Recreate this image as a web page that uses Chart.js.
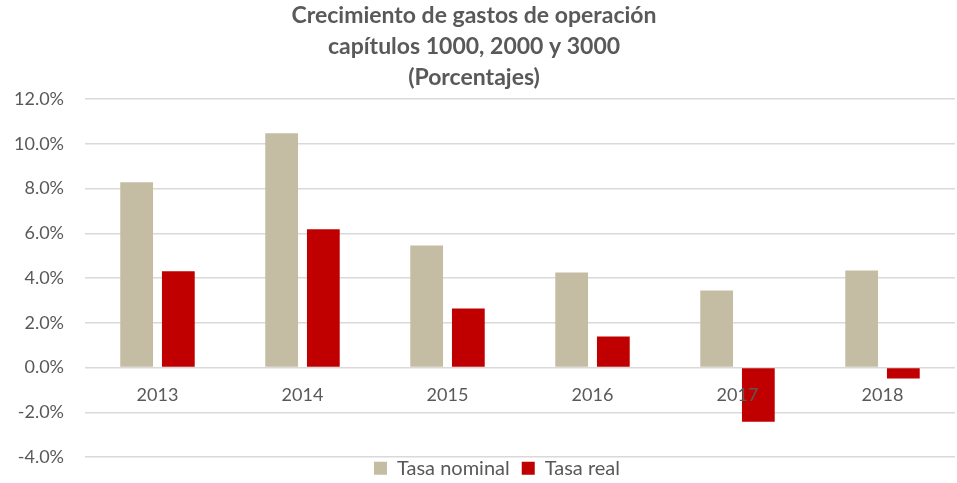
<!DOCTYPE html>
<html>
<head>
<meta charset="utf-8">
<script src="https://cdn.jsdelivr.net/npm/chart.js@4"></script>
<style>
  html, body { margin: 0; padding: 0; background: #fff; }
  #wrap { width: 957px; height: 483px; }
</style>
</head>
<body>
<div id="wrap"><canvas id="chart"></canvas></div>
<script>
// --- Datos ---
const years = ['2013', '2014', '2015', '2016', '2017', '2018'];
const tasaNominal = [8.28, 10.48, 5.46, 4.25, 3.45, 4.34];
const tasaReal = [4.30, 6.18, 2.64, 1.39, -2.42, -0.49];
const titleLines = ['Crecimiento de gastos de operación', 'capítulos 1000, 2000 y 3000', '(Porcentajes)'];

const textColor = '#595959';
const fontFamily = 'Lato, "Open Sans", sans-serif';

// ajuste fino: leyenda más baja y área del gráfico hasta y=457
const layoutFix = {
    id: 'layoutFix',
    beforeInit(chart) {
        const fit = chart.legend.fit;
        chart.legend.fit = function () {
            fit.bind(chart.legend)();
            this.height = 26;
        };
    },
    afterLayout(chart) {
        const lg = chart.legend;
        lg.top -= 5;
        lg.bottom = chart.height;
        lg.left += 23;
        lg.right += 23;

        const ys = chart.scales.y;
        ys.bottom = 457;
        ys.height = ys.bottom - ys.top;
        ys.configure();
        chart.chartArea.bottom = 457;
        chart.chartArea.height = chart.chartArea.bottom - chart.chartArea.top;
    }
};

const ctx = document.getElementById('chart').getContext('2d');
new Chart(ctx, {
    type: 'bar',
    data: {
        labels: years,
        datasets: [
            { label: 'Tasa nominal', data: tasaNominal, backgroundColor: '#c4bca3' },
            { label: 'Tasa real', data: tasaReal, backgroundColor: '#c00000' }
        ]
    },
    options: {
        responsive: true, maintainAspectRatio: false,
        animation: false,
        datasets: { bar: { categoryPercentage: 0.575, barPercentage: 0.786 } },
        layout: { padding: { left: -7, right: 2, top: 0, bottom: 0 } },
        scales: {
            x: {
                position: { y: 0 },
                grid: { display: false, drawTicks: false },
                border: { display: false },
                ticks: { z: 1, color: textColor, font: { family: fontFamily, size: 18 }, padding: 17 }
            },
            y: {
                min: -4, max: 12,
                ticks: {
                    stepSize: 2,
                    color: textColor,
                    font: { family: fontFamily, size: 18 },
                    padding: 21,
                    callback: v => v.toFixed(1) + '%'
                },
                grid: { color: '#d9d9d9', lineWidth: 1.5, drawTicks: false },
                border: { display: false }
            }
        },
        plugins: {
            title: {
                display: true,
                text: titleLines,
                color: textColor,
                font: { family: fontFamily, size: 23, weight: 'bold', lineHeight: 1.35 },
                padding: { top: 0, bottom: 6 }
            },
            legend: {
                position: 'bottom',
                labels: {
                    color: textColor,
                    font: { family: fontFamily, size: 20 },
                    boxWidth: 13, boxHeight: 13,
                    padding: 12
                }
            },
            tooltip: { enabled: false }
        }
    },
    plugins: [layoutFix]
});
</script>
</body>
</html>
